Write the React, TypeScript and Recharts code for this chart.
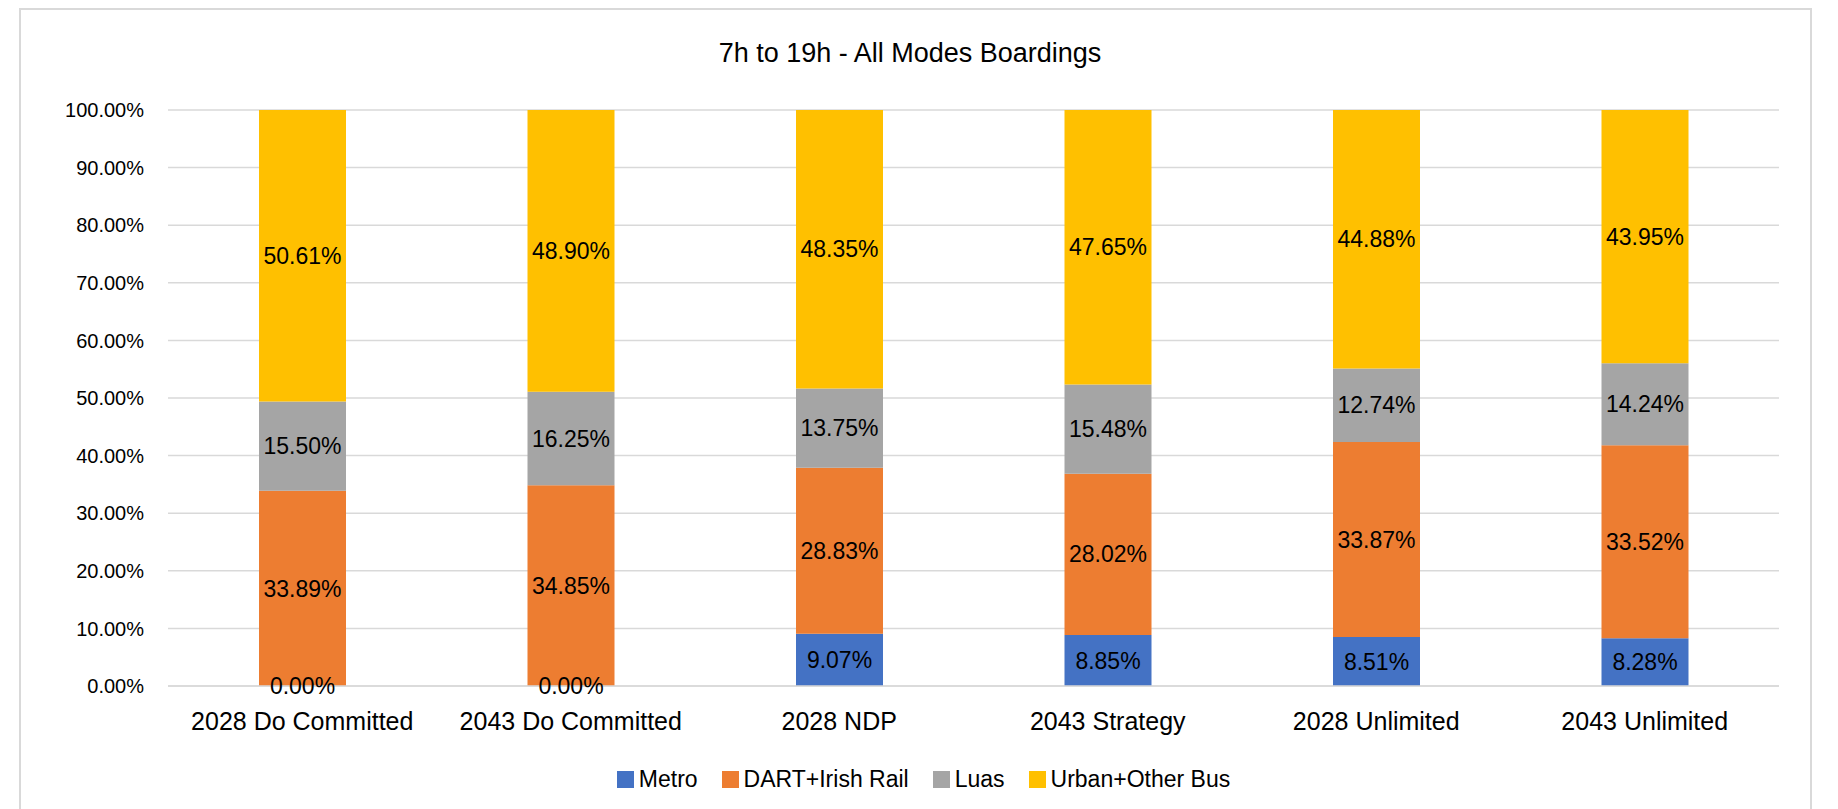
import { BarChart, Bar, XAxis, YAxis, CartesianGrid, Legend, LabelList } from 'recharts'

const scenarios = [
  '2028 Do Committed',
  '2043 Do Committed',
  '2028 NDP',
  '2043 Strategy',
  '2028 Unlimited',
  '2043 Unlimited',
]

const metro = [0, 0, 9.07, 8.85, 8.51, 8.28]
const dartIrishRail = [33.89, 34.85, 28.83, 28.02, 33.87, 33.52]
const luas = [15.5, 16.25, 13.75, 15.48, 12.74, 14.24]
const urbanOtherBus = [50.61, 48.9, 48.35, 47.65, 44.88, 43.95]

const yTicks = [0, 10, 20, 30, 40, 50, 60, 70, 80, 90, 100]

const FONT = '"Liberation Sans", Arial, sans-serif'

const series = [
  { key: 'metro', name: 'Metro', color: '#4472C4' },
  { key: 'dart', name: 'DART+Irish Rail', color: '#ED7D31' },
  { key: 'luas', name: 'Luas', color: '#A5A5A5' },
  { key: 'bus', name: 'Urban+Other Bus', color: '#FFC000' },
]

const dados = scenarios.map((name, i) => ({
  name,
  metro: metro[i],
  dart: dartIrishRail[i],
  luas: luas[i],
  bus: urbanOtherBus[i],
}))

const pct = (v: any) => `${Number(v).toFixed(2)}%`

// recharts skips labels for zero-height bars, so the 0.00% metro labels are
// drawn at the foot of the DART bar instead
function MetroZeroLabel(props: any) {
  const { x, y, width, height, index } = props
  if (metro[index] !== 0) return null
  return (
    <text
      x={x + width / 2}
      y={y + height}
      textAnchor="middle"
      dominantBaseline="central"
      fill="#000"
      fontSize={23}
      fontFamily={FONT}
    >
      {pct(metro[index])}
    </text>
  )
}

function LegendaBaixo() {
  return (
    <div
      style={{
        height: 40,
        display: 'flex',
        justifyContent: 'center',
        alignItems: 'center',
        fontFamily: FONT,
        fontSize: 23,
        color: '#000',
      }}
    >
      {series.map((s, i) => (
        <div
          key={s.key}
          style={{ display: 'flex', alignItems: 'center', marginRight: i < series.length - 1 ? 24 : 0 }}
        >
          <span style={{ width: 17, height: 17, background: s.color, display: 'inline-block', marginRight: 5 }} />
          <span>{s.name}</span>
        </div>
      ))}
    </div>
  )
}

export default function App() {
  return (
    <div style={{ position: 'absolute', left: 0, top: 0, width: 1838, height: 809, background: '#fff', overflow: 'hidden' }}>
      <div
        style={{
          position: 'absolute',
          left: 19,
          top: 8,
          width: 1793,
          height: 840,
          border: '2px solid #D9D9D9',
          boxSizing: 'border-box',
        }}
      />
      <div
        style={{
          position: 'absolute',
          left: 0,
          top: 39,
          width: 1820,
          textAlign: 'center',
          fontFamily: FONT,
          fontSize: 27,
          lineHeight: '28px',
          color: '#000',
        }}
      >
        7h to 19h - All Modes Boardings
      </div>
      <div style={{ position: 'absolute', left: 0, top: 0 }}>
        <BarChart
          width={1838}
          height={809}
          data={dados}
          margin={{ top: 110, right: 59, left: 68, bottom: 10 }}
        >
          <CartesianGrid vertical={false} stroke="#D9D9D9" strokeWidth={1.5} />
          <XAxis
            dataKey="name"
            height={73}
            tickLine={false}
            tickSize={0}
            tickMargin={26}
            axisLine={{ stroke: '#D9D9D9', strokeWidth: 1.5 }}
            tick={{ fill: '#000', fontSize: 25, fontFamily: FONT }}
            interval={0}
          />
          <YAxis
            width={100}
            domain={[0, 100]}
            ticks={yTicks}
            tickFormatter={pct}
            axisLine={false}
            tickLine={false}
            tickSize={0}
            tickMargin={24}
            tick={{ fill: '#000', fontSize: 20, fontFamily: FONT }}
          />
          <Legend verticalAlign="bottom" content={() => <LegendaBaixo />} />
          {series.map((s) => (
            <Bar
              key={s.key}
              dataKey={s.key}
              name={s.name}
              stackId="a"
              fill={s.color}
              barSize={87}
              isAnimationActive={false}
            >
              <LabelList
                dataKey={s.key}
                position="center"
                formatter={pct}
                fill="#000"
                fontSize={23}
                fontFamily={FONT}
              />
              {s.key === 'dart' && <LabelList dataKey="metro" content={MetroZeroLabel} />}
            </Bar>
          ))}
        </BarChart>
      </div>
    </div>
  )
}
